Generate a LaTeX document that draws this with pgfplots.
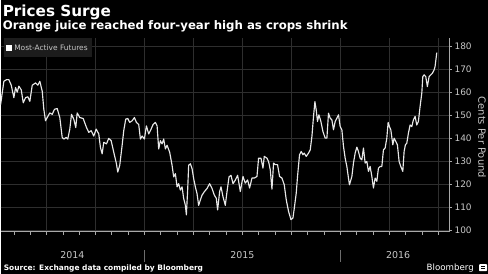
\documentclass[border=0pt]{standalone}
\usepackage{fontspec}
\setmainfont{DejaVu Sans}
\usepackage{pgfplots}
\pgfplotsset{compat=1.18}
\definecolor{gridc}{HTML}{2E2E2E}
\definecolor{axc}{HTML}{A8A8A8}
\definecolor{txt}{HTML}{C8C8C8}
\definecolor{legbg}{HTML}{1C1C1C}
\definecolor{linec}{HTML}{E8E8E8}
\begin{document}
\begin{tikzpicture}[x=1bp,y=1bp]
\fill[black] (0,0) rectangle (488,274);
\begin{axis}[at={(0bp,42bp)}, anchor=south west, scale only axis,
  width=449bp, height=194bp,
  xmin=0, xmax=449, ymin=99.57, ymax=183.46,
  axis x line*=bottom, axis y line*=right,
  axis line style={axc, line width=0.6bp, -},
  xtick={46,95,144,193,242,291,340,389,438}, xticklabels={},
  minor xtick={13.3,29.7,62.3,78.7,111.3,127.7,160.3,176.7,209.3,225.7,258.3,274.7,307.3,323.7,356.3,372.7,405.3,421.7},
  tick align=outside, major tick length=3bp, minor tick length=3bp,
  tick style={axc, line width=0.5bp},
  ytick={100,110,...,180},
  yticklabel style={font=\fontsize{9}{9}\selectfont, text=txt, xshift=-1bp},
  /pgf/number format/assume math mode=true,
  grid=major, major grid style={gridc, line width=0.6bp},
  clip=false,
]
\addplot[linec, line width=1.15bp, line join=round] coordinates {
(0,154.5) (3.3,164.7) (6,165.4) (8.3,165.4) (10.7,163) (13.3,157.6) (15,162) (16.7,160)
(18.3,162.6) (20.7,161) (22.7,155.4) (25,157.6) (27.3,158) (29.3,156) (31.7,163) (35,164)
(37.3,163) (39.3,164.7) (41.7,160.4) (43.3,152.6) (45,147.6) (46.7,149) (49.3,151) (51.7,150.4)
(54,152.6) (56.7,152.9) (59.3,149) (61.7,140.4) (63.3,139.7) (65.7,140.4) (67.3,139.7) (69.3,144)
(71,150.4) (73.3,148.3) (75.3,144.7) (76.7,151) (79.3,149) (82.7,148.6) (86,144.7) (88.3,142.6)
(90.7,143.3) (93.3,141) (95.7,144) (98.3,141.9) (100,136) (101.7,133.3) (103.3,138.3) (106,137.6)
(108.3,140) (110.7,139) (113.3,134) (116,129) (117.3,125.4) (119.3,128.3) (121.7,137) (123.3,143.3)
(125.3,148.3) (127.3,148.6) (129.3,146.9) (131.7,147.6) (134,149) (136,146.9) (138.3,146) (140,139.7)
(141.7,141) (144,139.7) (146,145.4) (148.3,141.9) (150.7,144) (152.7,146) (155,146.9) (156.7,145.4)
(158.3,135.4) (160,139) (161.7,137.6) (163.3,139.7) (165,135.4) (166.7,137) (169.3,134) (171.7,128.3)
(173.3,123.3) (175,124.7) (176.7,119) (178.3,120.4) (180,117.6) (181.7,119) (183.3,114) (185,111)
(186,106.9) (187.3,117.6) (188.3,128.3) (190,129) (191.7,126.9) (193.3,122.6) (195,119) (196.7,116)
(198.3,111) (200,113.3) (201.7,115.4) (204,116.9) (206.7,118.3) (209.3,120.4) (211.7,118.3) (214,115.4)
(216,114) (217.3,109) (219.3,116.9) (220.7,119) (222.7,114.7) (225,111) (226.7,116.9) (228.7,123.3)
(230.7,124) (232.7,120.4) (235,121.9) (237.3,124) (240,117) (242.7,123.5) (245,120.6) (247.3,122)
(249.3,118.5) (251.7,122.8) (254,122.8) (256.7,123.5) (258.3,131.4) (260.7,131.4) (262.7,127.1) (264,132.2)
(266.7,131.4) (268.3,130) (270,126.4) (271.7,118) (273.3,129.3) (275,128.6) (277.3,128.6) (279.3,123.5)
(281.7,122.8) (284,119.9) (286,113.4) (288.3,108.4) (290.7,104.8) (292.7,105.5) (294.3,110.5) (296,116.3)
(297.3,123.5) (299.3,132.9) (301,134.3) (302.7,132.9) (304,133.6) (306,132.2) (308.3,133.6) (310,135)
(311.7,140.8) (313.3,149.5) (314.7,155.9) (316,152.3) (317.3,147.3) (318.7,150.2) (320.7,147.3) (322.7,143)
(325,140.1) (326.7,140.1) (328.3,150.9) (330,148.7) (331.7,148) (333.3,143.7) (335,147.3) (336.7,148.7)
(338.3,150.2) (340,145.1) (341.7,143.7) (343.3,136.5) (345,131.4) (346.7,127.8) (348.3,122.8) (349.3,119.9)
(351.7,123.5) (353.3,129.3) (355,133.6) (356.7,136.2) (358.3,134.3) (360,131.4) (361.7,130.7) (363.3,135.8)
(365,129.3) (366.7,130) (368.3,125.7) (370,127.8) (371.7,123.5) (373.3,118.5) (375,122.8) (376.7,121.4)
(378.3,127.1) (380,127.8) (381.7,127.8) (383.3,135) (385,135.8) (386.7,140.1) (388,146.9) (389.3,145.1)
(390.7,143.7) (392.7,137.2) (394,140.1) (395.7,138.6) (397.3,137.2) (399,130) (400.7,127.8) (402.7,125.7)
(404,134.3) (405.3,137.2) (406.7,137.9) (408.3,142.2) (410,145.8) (411.7,145.1) (413.3,148) (415,149.5)
(416.7,145.8) (418.3,147.3) (420,153.8) (421.7,159.5) (422.7,166.7) (424,167.5) (425.7,166.7) (427.3,162.4)
(429,166.7) (430.7,167.5) (432.3,168.2) (434,169.6) (435,171.1) (436.7,177.1)
};
\end{axis}
% legend
\fill[legbg] (3,217) rectangle (92,236);
\fill[white] (5.5,223) rectangle (11.5,229);
\node[anchor=west, inner sep=0, text=txt, font=\fontsize{7.5}{8}\selectfont] at (13.5,226) {Most-Active Futures};
% titles
\node[anchor=base west, inner sep=0, text=white, font=\bfseries\fontsize{15.3}{16}\selectfont] at (2,257.5) {Prices Surge};
\node[anchor=base west, inner sep=0, text=white, font=\bfseries\fontsize{11.8}{12}\selectfont] at (2,244) {Orange juice reached four-year high as crops shrink};
% y label
\node[rotate=-90, inner sep=0, text=txt, font=\fontsize{10}{10}\selectfont] at (482,136.5) {Cents Per Pound};
% year labels
\node[anchor=base, inner sep=0, text=txt, font=\fontsize{9.5}{10}\selectfont] at (72,14.7) {2014};
\node[anchor=base, inner sep=0, text=txt, font=\fontsize{9.5}{10}\selectfont] at (242,14.7) {2015};
\node[anchor=base, inner sep=0, text=txt, font=\fontsize{9.5}{10}\selectfont] at (398,14.7) {2016};
\draw[gridc!70!white, line width=0.5bp] (144,12) -- (144,24);
\draw[gridc!70!white, line width=0.5bp] (340,12) -- (340,24);
% footer
\node[anchor=base west, inner sep=0, text=white, font=\bfseries\fontsize{7.5}{8}\selectfont] at (3,3) {Source: Exchange data compiled by Bloomberg};
\node[anchor=base east, inner sep=0, text=white, font=\fontsize{8.7}{9}\selectfont] at (474,3.5) {Bloomberg};
\fill[white, rounded corners=0.8bp] (479,2.5) rectangle (487,9.5);
\draw[black, line width=0.6bp] (481,5) -- (485,5);
\draw[black, line width=0.6bp] (481,7) -- (485,7);
\end{tikzpicture}
\end{document}
